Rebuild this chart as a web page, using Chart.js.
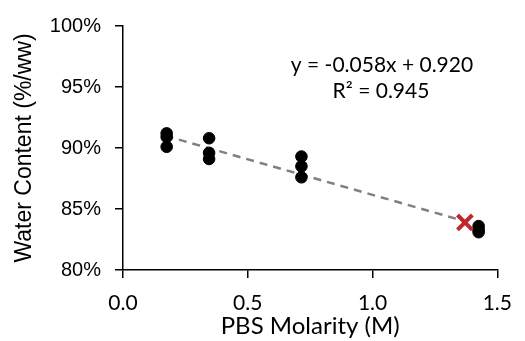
<!DOCTYPE html>
<html>
<head>
<meta charset="utf-8">
<script src="https://cdn.jsdelivr.net/npm/chart.js@4"></script>
<style>
  html, body { margin: 0; padding: 0; background: #fff; }
  #wrap { width: 525px; height: 341px; position: relative; }
</style>
</head>
<body>
<div id="wrap"><canvas id="c"></canvas></div>
<script>
// Data
const molarity = [0.175, 0.175, 0.175, 0.345, 0.345, 0.345, 0.715, 0.715, 0.715, 1.425, 1.425, 1.425];
const waterContent = [91.2, 90.9, 90.1, 90.8, 89.6, 89.1, 89.3, 88.5, 87.6, 83.6, 83.3, 83.1];
const predictedX = [1.37];
const predictedY = [83.9];
const trendX = [0.17, 1.37];
const trendY = [91.0, 84.0];
const xTicks = [0, 0.5, 1.0, 1.5];
const yTicks = [80, 85, 90, 95, 100];
const equationLines = ['y = -0.058x + 0.920', 'R² = 0.945'];

const toPts = (xs, ys) => xs.map((x, i) => ({ x: x, y: ys[i] }));

const eqPlugin = {
  id: 'eqText',
  afterDatasetsDraw(chart) {
    const ctx = chart.ctx;
    ctx.save();
    ctx.fillStyle = '#000';
    ctx.textBaseline = 'middle';
    ctx.textAlign = 'center';
    ctx.font = '21px Lato';
    ctx.fillText(equationLines[0], 382, 65);
    ctx.fillText(equationLines[1], 381, 91);
    ctx.restore();
  }
};

new Chart(document.getElementById('c'), {
  type: 'scatter',
  data: {
    datasets: [
      {
        label: 'trend',
        data: toPts(trendX, trendY),
        showLine: true,
        borderColor: '#808080',
        borderWidth: 2.5,
        borderDash: [8, 6],
        pointRadius: 0,
        fill: false,
        order: 3
      },
      {
        label: 'measured',
        data: toPts(molarity, waterContent),
        backgroundColor: '#000',
        borderColor: '#000',
        pointRadius: 5.8,
        pointHoverRadius: 5.8,
        order: 2
      },
      {
        label: 'predicted',
        data: toPts(predictedX, predictedY),
        pointStyle: 'crossRot',
        pointRadius: 10.5,
        borderColor: '#C0272D',
        borderWidth: 4,
        order: 1
      }
    ]
  },
  options: {
    responsive: true,
    maintainAspectRatio: false,
    animation: false,
    events: [],
    layout: { padding: { left: 0, right: 19, top: 24, bottom: 0 } },
    plugins: { legend: { display: false }, tooltip: { enabled: false } },
    scales: {
      x: {
        type: 'linear',
        min: 0, max: 1.5,
        afterBuildTicks(scale) { scale.ticks = xTicks.map(v => ({ value: v })); },
        afterFit(scale) { scale.height = 71; },
        ticks: {
          color: '#000',
          font: { family: 'Lato', size: 21 },
          padding: 13,
          callback: v => v.toFixed(1)
        },
        grid: { drawOnChartArea: false, drawTicks: true, tickLength: 8, color: '#000', lineWidth: 1.5 },
        border: { display: true, color: '#000', width: 1.5 },
        title: {
          display: true,
          text: 'PBS Molarity (M)',
          color: '#000',
          font: { family: 'Lato', size: 24 },
          padding: { top: 0, bottom: 0 }
        }
      },
      y: {
        type: 'linear',
        min: 80, max: 100,
        afterBuildTicks(scale) { scale.ticks = yTicks.map(v => ({ value: v })); },
        afterFit(scale) { scale.width = 123; },
        ticks: {
          color: '#000',
          font: { family: 'Liberation Sans', size: 20 },
          padding: 14,
          callback: v => v + '%'
        },
        grid: { drawOnChartArea: false, drawTicks: true, tickLength: 8, color: '#000', lineWidth: 1.5 },
        border: { display: true, color: '#000', width: 1.5 },
        title: {
          display: true,
          text: 'Water Content (%/ww)',
          color: '#000',
          font: { family: 'Liberation Sans', size: 23 },
          padding: { top: 11, bottom: 0 }
        }
      }
    }
  },
  plugins: [eqPlugin]
});
</script>
</body>
</html>
